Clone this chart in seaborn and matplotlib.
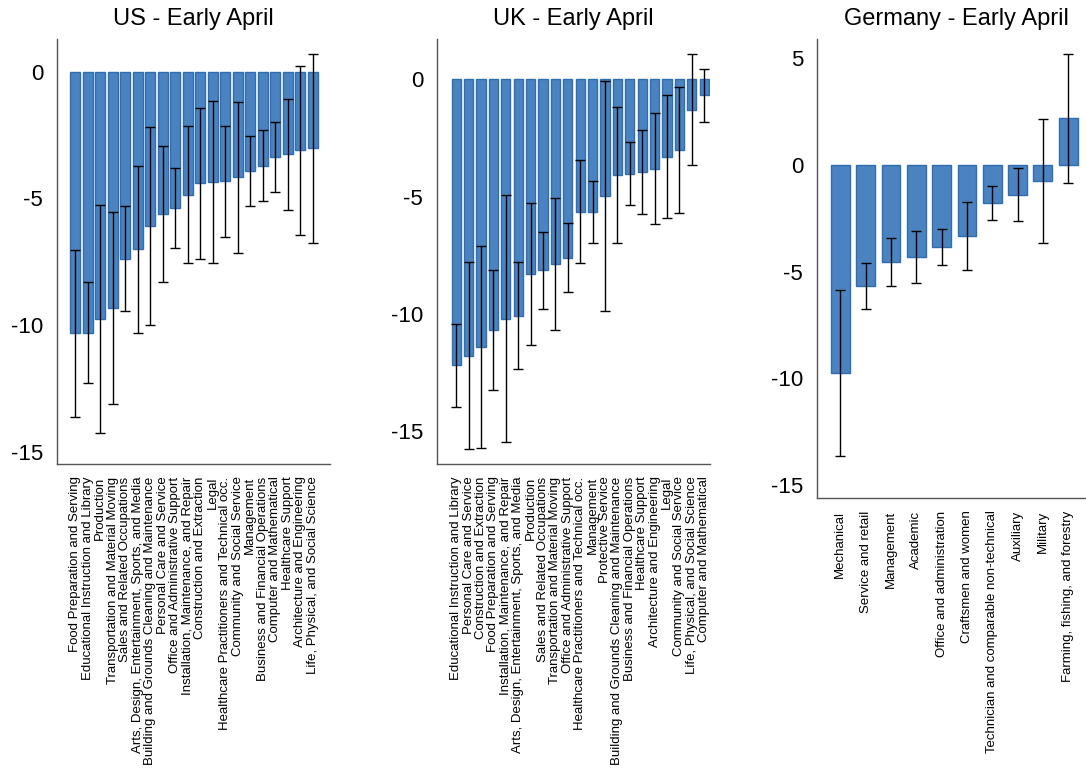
import matplotlib
matplotlib.use("Agg")
import matplotlib.pyplot as plt
import seaborn as sns
import pandas as pd
import numpy as np

# ---- data: mean change and half-width of the confidence interval ----
us_categories = [
    "Food Preparation and Serving",
    "Educational Instruction and Library",
    "Production",
    "Transportation and Material Moving",
    "Sales and Related Occupations",
    "Arts, Design, Entertainment, Sports, and Media",
    "Building and Grounds Cleaning and Maintenance",
    "Personal Care and Service",
    "Office and Administrative Support",
    "Installation, Maintenance, and Repair",
    "Construction and Extraction",
    "Legal",
    "Healthcare Practitioners and Technical occ.",
    "Community and Social Service",
    "Management",
    "Business and Financial Operations",
    "Computer and Mathematical",
    "Healthcare Support",
    "Architecture and Engineering",
    "Life, Physical, and Social Science",
]
us_values = [-10.33, -10.30, -9.78, -9.34, -7.38, -7.01, -6.10, -5.62, -5.39, -4.86,
             -4.41, -4.37, -4.33, -4.17, -3.92, -3.72, -3.37, -3.26, -3.10, -3.03]
us_err = [3.30, 2.00, 4.50, 3.80, 2.07, 3.30, 3.90, 2.68, 1.57, 2.70,
          2.97, 3.20, 2.19, 2.98, 1.39, 1.40, 1.37, 2.19, 3.34, 3.73]

uk_categories = [
    "Educational Instruction and Library",
    "Personal Care and Service",
    "Construction and Extraction",
    "Food Preparation and Serving",
    "Installation, Maintenance, and Repair",
    "Arts, Design, Entertainment, Sports, and Media",
    "Production",
    "Sales and Related Occupations",
    "Transportation and Material Moving",
    "Office and Administrative Support",
    "Healthcare Practitioners and Technical occ.",
    "Management",
    "Protective Service",
    "Building and Grounds Cleaning and Maintenance",
    "Business and Financial Operations",
    "Healthcare Support",
    "Architecture and Engineering",
    "Legal",
    "Community and Social Service",
    "Life, Physical, and Social Science",
    "Computer and Mathematical",
]
uk_values = [-12.20, -11.78, -11.40, -10.68, -10.21, -10.07, -8.30, -8.15, -7.87, -7.61,
             -5.65, -5.64, -4.96, -4.06, -4.03, -3.95, -3.81, -3.30, -3.01, -1.29, -0.67]
uk_err = [1.78, 4.00, 4.30, 2.56, 5.26, 2.28, 3.03, 1.64, 2.82, 1.47,
          2.19, 1.32, 4.90, 2.90, 1.34, 1.80, 2.36, 2.63, 2.68, 2.37, 1.13]

de_categories = [
    "Mechanical",
    "Service and retail",
    "Management",
    "Academic",
    "Office and administration",
    "Craftsmen and women",
    "Technician and comparable non-technical",
    "Auxiliary",
    "Military",
    "Farming, fishing, and forestry",
]
de_values = [-9.75, -5.67, -4.55, -4.31, -3.84, -3.31, -1.78, -1.39, -0.75, 2.19]
de_err = [3.88, 1.07, 1.13, 1.22, 0.86, 1.59, 0.78, 1.23, 2.91, 3.02]

titles = ["US - Early April", "UK - Early April", "Germany - Early April"]
yticks_us = [0, -5, -10, -15]
yticks_de = [5, 0, -5, -10, -15]

# ---- style ----
sns.set_style("white")
plt.rcParams["font.family"] = ["Liberation Sans", "DejaVu Sans"]
plt.rcParams["axes.unicode_minus"] = False
for key in ("text.color", "axes.labelcolor", "xtick.color", "ytick.color"):
    plt.rcParams[key] = "black"

BAR_FACE = "#4a83bf"
BAR_EDGE = "#2f6db3"
SPINE = "#555555"

fig = plt.figure(figsize=(10.86, 7.72), dpi=100)

panels = [
    dict(cats=us_categories, vals=us_values, err=us_err, title=titles[0],
         rect=[0.0525, 0.399, 0.2514, 0.5505], ylim=(-15.49, 1.29),
         xlim=(-1.46, 20.38), width=0.78, yticks=yticks_us),
    dict(cats=uk_categories, vals=uk_values, err=uk_err, title=titles[1],
         rect=[0.4024, 0.399, 0.2514, 0.5505], ylim=(-16.4, 1.72),
         xlim=(-1.54, 20.46), width=0.74, yticks=yticks_us),
    dict(cats=de_categories, vals=de_values, err=de_err, title=titles[2],
         rect=[0.7523, 0.3549, 0.256, 0.5946], ylim=(-15.6, 5.9),
         xlim=(-0.92, 10.06), width=0.74, yticks=yticks_de),
]

for p in panels:
    ax = fig.add_axes(p["rect"])
    df = pd.DataFrame({"category": p["cats"], "value": p["vals"], "err": p["err"]})
    sns.barplot(data=df, x="category", y="value", order=p["cats"], ax=ax,
                color=BAR_FACE, saturation=1, width=p["width"],
                edgecolor=BAR_EDGE, linewidth=1.0, errorbar=None)
    pos = np.arange(len(df))
    ax.errorbar(pos, df["value"], yerr=df["err"], fmt="none",
                ecolor="black", elinewidth=1.0, capsize=3.5, capthick=1.0,
                zorder=5)

    ax.set_xlim(*p["xlim"])
    ax.set_ylim(*p["ylim"])
    ax.set_yticks(p["yticks"])
    ax.set_yticklabels([str(t) for t in p["yticks"]])
    ax.set_xlabel("")
    ax.set_ylabel("")
    ax.set_title(p["title"], fontsize=17, pad=10, color="black")

    ax.tick_params(axis="y", length=0, pad=10, labelsize=16, labelcolor="black")
    ax.tick_params(axis="x", length=0, pad=9, labelsize=9.55, labelcolor="black")
    for lab in ax.get_xticklabels():
        lab.set_rotation(90)
        lab.set_ha("center")
        lab.set_va("top")

    sns.despine(ax=ax)
    for side in ("left", "bottom"):
        ax.spines[side].set_color(SPINE)
        ax.spines[side].set_linewidth(1.0)

fig.savefig("out.png", dpi=100)
